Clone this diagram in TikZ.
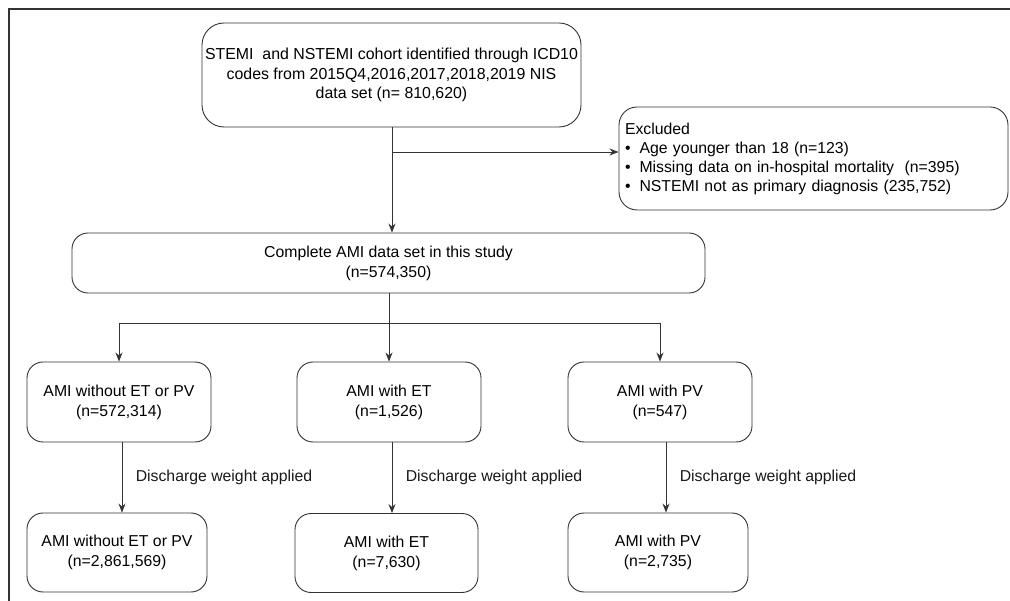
\documentclass[tikz,border=0pt]{standalone}
\usepackage{fontspec}
\setmainfont{Liberation Sans}
\usepackage{tikz}
\usetikzlibrary{arrows.meta}
\usetikzlibrary{positioning}
\definecolor{lineg}{HTML}{333333}

\begin{document}
\begin{tikzpicture}[x=1pt, y=-1pt,
        box/.style={draw=lineg, line width=0.9pt, rounded corners=16pt, align=center,
            inner xsep=0pt, font=\fontsize{15.8}{20}\selectfont},
        arr/.style={draw=lineg, line width=0.9pt, -{Stealth[length=9pt, width=7pt]}},
        conn/.style={draw=lineg, line width=0.9pt}]
        \useasboundingbox (0,0) rectangle (1010,601);

        % outer frame (cut at right and bottom)
        \draw[lineg, line width=1.8pt] (9,601) -- (9,9) -- (1010,9);

        % source cohort
        \node[box, rounded corners=22pt, minimum width=379pt, minimum height=104pt,
            font=\fontsize{15.9}{19.5}\selectfont] (cohort) at (391.5,75)
            {STEMI\ \ and NSTEMI cohort identified through ICD10\\codes from 2015Q4,2016,2017,2018,2019 NIS\\data set (n= 810,620)};

        % exclusions
        \node[box, rounded corners=18pt, minimum height=103pt, text width=377pt, inner xsep=6pt,
            align=left, font=\fontsize{15.8}{19}\selectfont] (excl) at (813.5,158.5)
            {Excluded\\
             \textbullet\hspace{9pt}Age younger than 18 (n=123)\\
             \textbullet\hspace{9pt}Missing data on in-hospital mortality\ \ (n=395)\\
             \textbullet\hspace{9pt}NSTEMI not as primary diagnosis (235,752)};

        % complete data set
        \node[box, minimum width=633pt, minimum height=60pt] (full) at (388.5,263)
            {Complete AMI data set in this study\\(n=574,350)};

        % groups
        \node[box, minimum width=184pt, minimum height=80pt] (none) at (119,402)
            {AMI without ET or PV\\(n=572,314)};
        \node[box, minimum width=184pt, minimum height=80pt] (et) at (389,402)
            {AMI with ET\\(n=1,526)};
        \node[box, minimum width=184pt, minimum height=80pt] (pv) at (660,402)
            {AMI with PV\\(n=547)};

        % weighted groups
        \node[box, minimum width=180pt, minimum height=79pt] (wnone) at (117,552.5)
            {AMI without ET or PV\\(n=2,861,569)};
        \node[box, minimum width=183pt, minimum height=79pt] (wet) at (386.5,553)
            {AMI with ET\\(n=7,630)};
        \node[box, minimum width=180pt, minimum height=79pt] (wpv) at (658,552.5)
            {AMI with PV\\(n=2,735)};

        % connectors
        \coordinate (split) at (392,152);
        \coordinate (fork) at (389,323);
        \draw[arr] ([xshift=0.5pt]cohort.south) -- ([xshift=0.5pt]cohort.south |- full.north);
        \draw[arr] (split) -- (split -| excl.west);
        \draw[conn] ([xshift=0.5pt]full.south) -- (fork);
        \draw[arr] (fork) -- (fork |- et.north);
        \draw[arr] (fork) -| (none.north);
        \draw[arr] (fork) -| (pv.north);

        \foreach \a/\b/\dx in {none/wnone/3, et/wet/3, pv/wpv/6} {
            \draw[arr] ([xshift=\dx pt]\a.south) -- ([xshift=\dx pt]\a.south |- \b.north)
                node[midway, right=10pt, font=\fontsize{15.8}{20}\selectfont, text=black!90] {Discharge weight applied};
        }
    \end{tikzpicture}
\end{document}
